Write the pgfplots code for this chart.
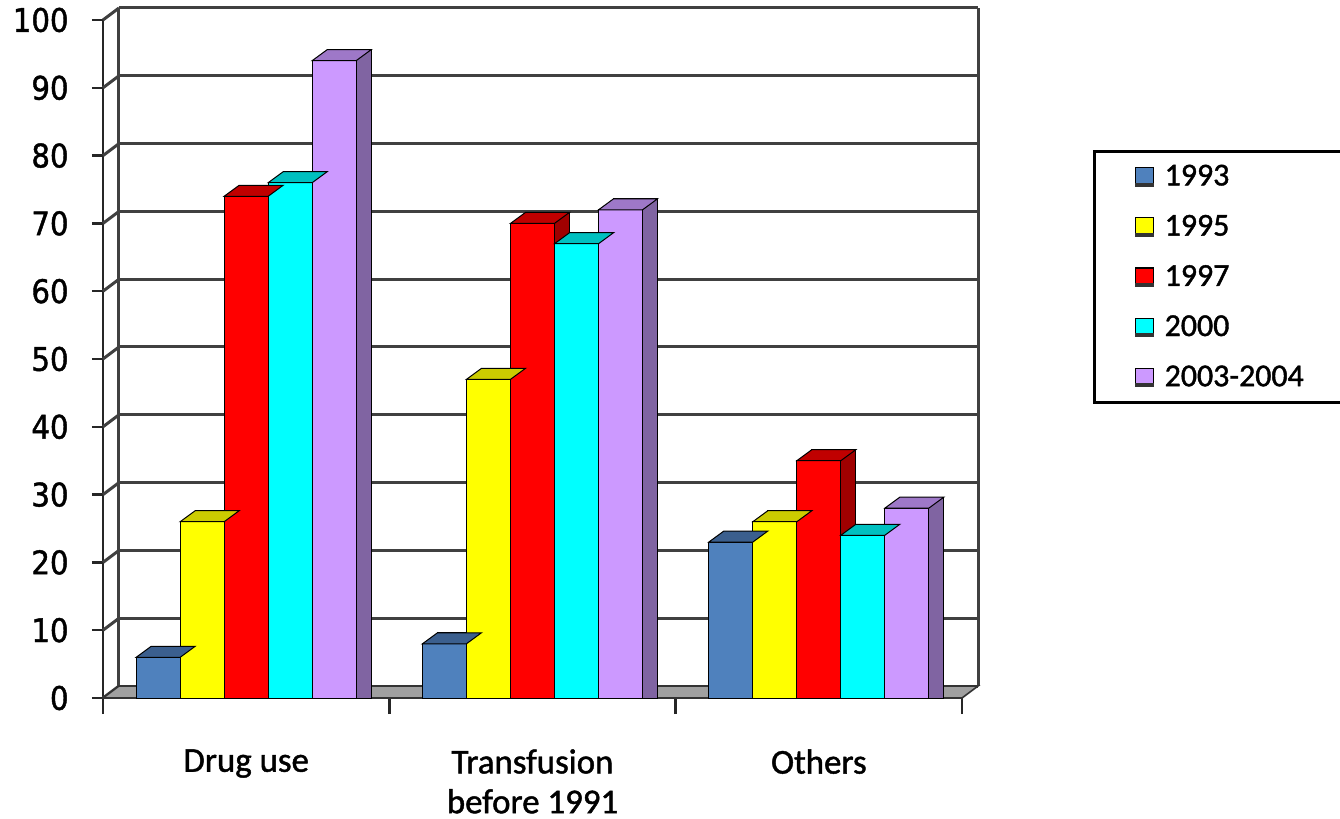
\documentclass[border=0pt]{standalone}
\usepackage{fontspec}
\setmainfont{Carlito}[FakeBold=1.5]
\newfontfamily\labfont{Carlito}[FakeBold=1.3]
\newfontfamily\tickfont{DejaVu Sans Condensed}[FakeBold=1.3]
\usepackage{pgfplots}
\usepackage{pgfplotstable}
\pgfplotsset{compat=1.18}

\definecolor{c93}{HTML}{4F81BD}\definecolor{c93d}{HTML}{34557D}\definecolor{c93t}{HTML}{3B5F8E}
\definecolor{c95}{HTML}{FFFF00}\definecolor{c95d}{HTML}{A8A800}\definecolor{c95t}{HTML}{CCCC00}
\definecolor{c97}{HTML}{FF0000}\definecolor{c97d}{HTML}{A00000}\definecolor{c97t}{HTML}{C00000}
\definecolor{c00}{HTML}{00FFFF}\definecolor{c00d}{HTML}{009E9E}\definecolor{c00t}{HTML}{00C0C0}
\definecolor{c03}{HTML}{CC99FF}\definecolor{c03d}{HTML}{8064A2}\definecolor{c03t}{HTML}{9E78C8}
\definecolor{floorc}{HTML}{A0A0A0}

\pgfdeclareplotmark{topface}{%
  \pgfpathmoveto{\pgfqpoint{-11bp}{0bp}}%
  \pgfpathlineto{\pgfqpoint{11bp}{0bp}}%
  \pgfpathlineto{\pgfqpoint{18.5bp}{5.5bp}}%
  \pgfpathlineto{\pgfqpoint{-3.5bp}{5.5bp}}%
  \pgfpathclose
  \pgfusepathqfillstroke}

\pgfplotstableread{
x d93 d95 d97 d00 d03
0 6 26 74 76 94
1 8 47 70 67 72
2 23 26 35 24 28
}\datatable

\pgfplotsset{
  frontbar/.style={ybar, bar width=0.15367, draw=black, line width=0.5bp, fill=#1,
    legend image code/.code={\draw[fill=#1, draw=black, line width=0.6bp] (0bp,-4.5bp) rectangle (9bp,4.5bp);
      \fill[black!80] (0bp,-4.8bp) rectangle (9bp,-3.3bp);}},
  depthbar/.style={ybar, bar width=0.15367, draw=black, line width=0.5bp, fill=#1, forget plot},
  topbar/.style={only marks, mark=topface, mark options={fill=#1, draw=black, line width=0.5bp}, forget plot},
}

\begin{document}
\begin{tikzpicture}
\useasboundingbox (-51.5bp,-60.5bp) rectangle (618.5bp,349bp);
\begin{axis}[
  at={(0,0)}, anchor=south west,
  scale only axis, width=429.5bp, height=339bp,
  xmin=-0.5, xmax=2.5, ymin=0, ymax=100,
  clip=false,
  axis x line*=bottom, axis y line*=left,
  axis line style={black!85, line width=1.25bp, -},
  xtick={0,1,2},
  xticklabels={Drug use, {Transfusion\\before 1991}, Others},
  minor xtick={-0.5,0.5,1.5,2.5},
  major x tick style={draw=none},
  minor x tick style={black!85, line width=1.25bp},
  minor tick length=8bp,
  ytick={0,10,...,100},
  major tick length=5.5bp,
  tick align=outside,
  y tick style={black!85, line width=1.25bp},
  ymajorgrids,
  major grid style={black!75, line width=1.5bp, xshift=8bp, yshift=6bp},
  extra x ticks={-0.5,2.5}, extra x tick labels={},
  extra x tick style={grid=major, major tick length=0pt},
  /pgf/number format/assume math mode=true,
  yticklabel style={font=\tickfont\fontsize{16.3}{16.3}\selectfont, inner sep=0pt, xshift=-11.5bp},
  xticklabel style={font=\labfont\fontsize{17.5}{20}\selectfont, align=center, inner sep=0pt, yshift=-20bp},
  legend style={at={(1.1525,0.8083)}, anchor=north west, draw=black, line width=1.5bp,
    font=\labfont\fontsize{16}{16}\selectfont, inner xsep=20bp, inner ysep=0pt, row sep=0pt,
    nodes={inner sep=0pt, minimum height=25.1bp}},
  legend cell align=left,
]
\pgfplotsinvokeforeach{0,10,...,100}{\draw[black!75, line width=1.5bp] (axis cs:-0.5,#1) -- ++(8bp,6bp);}
\addplot[fill=floorc, draw=black!80, line width=0.8bp, forget plot] coordinates {(-0.5,0) (2.5,0) (2.5559,1.77) (-0.4441,1.77)} -- cycle;

\addplot[depthbar=c93d, bar shift=-0.25494] table[x=x, y expr=\thisrow{d93}+1.62]{\datatable};
\addplot[frontbar=c93, bar shift=-0.30734] table[x=x, y=d93]{\datatable};
\addlegendentry{\makebox[95bp][l]{\hspace*{5.5bp}1993}}
\addplot[topbar=c93t] table[x expr=\thisrow{x}-0.30734, y=d93]{\datatable};

\addplot[depthbar=c95d, bar shift=-0.10127] table[x=x, y expr=\thisrow{d95}+1.62]{\datatable};
\addplot[frontbar=c95, bar shift=-0.15367] table[x=x, y=d95]{\datatable};
\addlegendentry{\makebox[95bp][l]{\hspace*{5.5bp}1995}}
\addplot[topbar=c95t] table[x expr=\thisrow{x}-0.15367, y=d95]{\datatable};

\addplot[depthbar=c97d, bar shift=0.0524] table[x=x, y expr=\thisrow{d97}+1.62]{\datatable};
\addplot[frontbar=c97, bar shift=0] table[x=x, y=d97]{\datatable};
\addlegendentry{\makebox[95bp][l]{\hspace*{5.5bp}1997}}
\addplot[topbar=c97t] table[x=x, y=d97]{\datatable};

\addplot[depthbar=c00d, bar shift=0.20607] table[x=x, y expr=\thisrow{d00}+1.62]{\datatable};
\addplot[frontbar=c00, bar shift=0.15367] table[x=x, y=d00]{\datatable};
\addlegendentry{\makebox[95bp][l]{\hspace*{5.5bp}2000}}
\addplot[topbar=c00t] table[x expr=\thisrow{x}+0.15367, y=d00]{\datatable};

\addplot[depthbar=c03d, bar shift=0.35974] table[x=x, y expr=\thisrow{d03}+1.62]{\datatable};
\addplot[frontbar=c03, bar shift=0.30734] table[x=x, y=d03]{\datatable};
\addlegendentry{\makebox[95bp][l]{\hspace*{5.5bp}2003-2004}}
\addplot[topbar=c03t] table[x expr=\thisrow{x}+0.30734, y=d03]{\datatable};
\end{axis}
\end{tikzpicture}
\end{document}
